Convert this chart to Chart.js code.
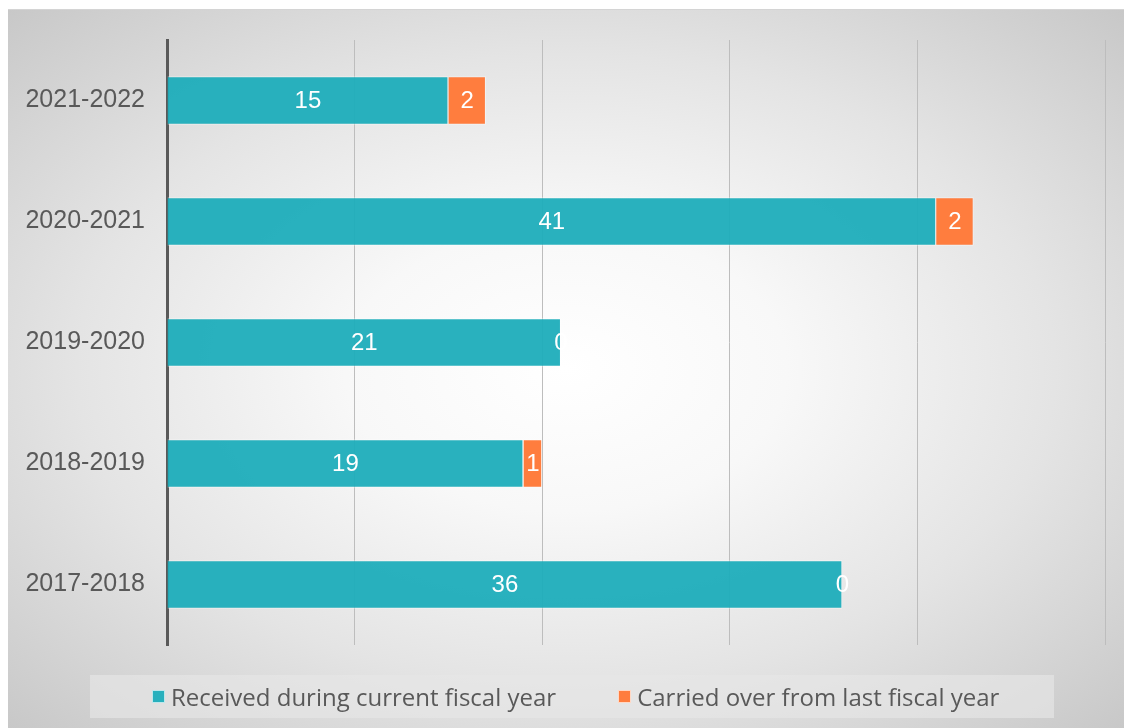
<!DOCTYPE html>
<html>
<head>
<meta charset="utf-8">
<title>Requests by fiscal year</title>
<script src="https://cdn.jsdelivr.net/npm/chart.js@4.4.1/dist/chart.umd.min.js"></script>
<style>
  html, body { margin: 0; padding: 0; background: #fff; }
  body { width: 1124px; height: 728px; position: relative; overflow: hidden; font-family: 'Liberation Sans', Arial, sans-serif; }
  #panel {
    position: absolute; left: 8px; top: 9px; width: 1116px; height: 719px;
    box-sizing: border-box; border-top: 1px solid #d4d4d4;
    background: radial-gradient(ellipse farthest-corner at 50% 50%, #ffffff 0%, #f8f8f8 28%, #e4e4e4 62%, #c8c8c8 100%);
  }
  #wrap { position: absolute; left: 0; top: 0; width: 1116px; height: 719px; }
  #legend {
    position: absolute; left: 82px; top: 665px; width: 964px; height: 43px;
    background: rgba(230,230,230,0.65);
    display: flex; align-items: center; padding-left: 62px; box-sizing: border-box;
    color: #595959; font-size: 24px; font-family: 'Open Sans', 'Liberation Sans', sans-serif;
    white-space: nowrap;
  }
  .item { display: flex; align-items: center; margin-right: 62px; flex-shrink: 0; }
  .swatch { width: 13px; height: 13px; flex-shrink: 0; box-sizing: border-box; border: 1px solid rgba(255,255,255,0.7); margin-right: 6px; }
</style>
</head>
<body>
<div id="panel">
  <div id="wrap"><canvas id="chart"></canvas></div>
  <div id="legend"></div>
</div>
<script>
// Categories, top to bottom as shown
const years = ['2021-2022', '2020-2021', '2019-2020', '2018-2019', '2017-2018'];
const received = [15, 41, 21, 19, 36];
const carried  = [2, 2, 0, 1, 0];
const xTicks   = [0, 10, 20, 30, 40, 50];

const seriesNames  = ['Received during current fiscal year', 'Carried over from last fiscal year'];
const seriesColors = ['rgba(30,173,186,0.95)', 'rgb(255,125,62)'];

const FONT = "'Liberation Sans', Arial, sans-serif";

// white value labels centred in each segment
const valueLabels = {
    id: 'valueLabels',
    afterDatasetsDraw(chart) {
        const ctx = chart.ctx;
        ctx.save();
        ctx.fillStyle = '#ffffff';
        ctx.font = '24px ' + FONT;
        ctx.textAlign = 'center';
        ctx.textBaseline = 'middle';
        chart.data.datasets.forEach((ds, i) => {
            chart.getDatasetMeta(i).data.forEach((bar, j) => {
                const p = bar.getProps(['x', 'y', 'base'], true);
                ctx.fillText(String(ds.data[j]), (p.x + p.base) / 2, p.y + 1);
            });
        });
        ctx.restore();
    }
};

new Chart(document.getElementById('chart'), {
    type: 'bar',
    data: {
        labels: years,
        datasets: [
            { label: seriesNames[0], data: received, backgroundColor: seriesColors[0],
              borderColor: 'rgba(255,255,255,0.45)', borderWidth: 1 },
            { label: seriesNames[1], data: carried, backgroundColor: seriesColors[1],
              borderColor: 'rgba(255,255,255,0.45)', borderWidth: 1 }
        ]
    },
    options: {
        indexAxis: 'y',
        responsive: true,
        maintainAspectRatio: false,
        animation: false,
        layout: { padding: { top: 30, right: 19, bottom: 84, left: 0 } },
        datasets: { bar: { categoryPercentage: 0.8, barPercentage: 0.5 } },
        plugins: { legend: { display: false }, tooltip: { enabled: false } },
        scales: {
            x: {
                stacked: true, min: xTicks[0], max: xTicks[xTicks.length - 1],
                afterBuildTicks(s) { s.ticks = xTicks.map(v => ({ value: v })); },
                ticks: { display: false },
                grid: { color: '#bdbdbd', lineWidth: 1, drawTicks: false },
                border: { display: false },
                afterFit(s) { s.height = 0; s.paddingLeft = 0; s.paddingRight = 0; }
            },
            y: {
                stacked: true,
                grid: { display: false, drawTicks: false },
                border: { display: true, color: '#595959', width: 3 },
                ticks: { color: '#595959', padding: 22, font: { size: 25, family: FONT } },
                afterFit(s) { s.width = 159; s.paddingTop = 0; s.paddingBottom = 0; }
            }
        }
    },
    plugins: [valueLabels]
});

// legend as real text
const legend = document.getElementById('legend');
seriesNames.forEach((name, i) => {
    const item = document.createElement('div');
    item.className = 'item';
    const sw = document.createElement('span');
    sw.className = 'swatch';
    sw.style.background = seriesColors[i];
    const tx = document.createElement('span');
    tx.textContent = name;
    item.appendChild(sw);
    item.appendChild(tx);
    legend.appendChild(item);
});
</script>
</body>
</html>
